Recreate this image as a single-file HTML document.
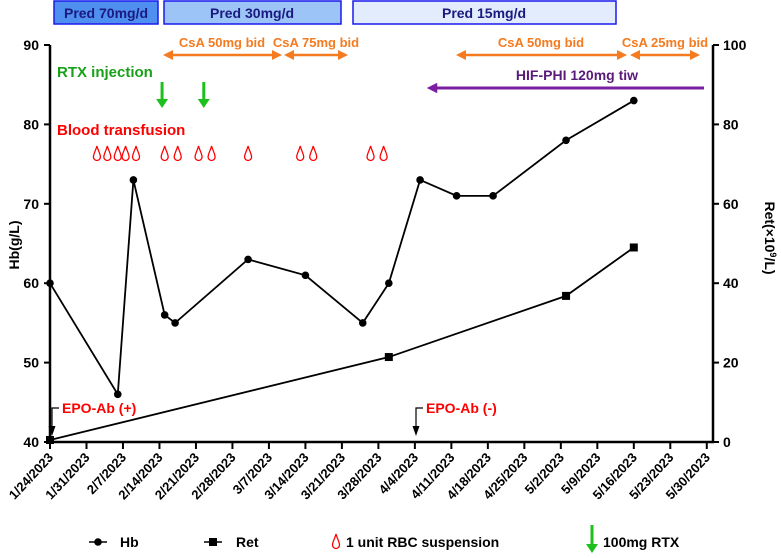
<!DOCTYPE html>
<html><head><meta charset="utf-8"><style>
body{margin:0;background:#fff}
svg text{font-family:"Liberation Sans",Arial,sans-serif;font-weight:bold}
</style></head><body>
<svg id="c" width="781" height="553" viewBox="0 0 781 553">
<defs>
<marker id="oa" viewBox="0 0 10 10" refX="5" refY="5" markerWidth="4" markerHeight="4" orient="auto-start-reverse"><path d="M0,0L10,5L0,10z" fill="#f47b20"/></marker>
<marker id="pa" viewBox="0 0 10 10" refX="5" refY="5" markerWidth="3.5" markerHeight="3.5" orient="auto-start-reverse"><path d="M0,0L10,5L0,10z" fill="#7a1fa2"/></marker>
</defs>
<g>
<rect x="54" y="1" width="104" height="23" fill="#4f8ff0" stroke="#1a1aee" stroke-width="1.5"/>
<text x="106" y="18" text-anchor="middle" font-size="14" fill="#1a1a80">Pred 70mg/d</text>
<rect x="164" y="1" width="177" height="23" fill="#9cc4f7" stroke="#1a1aee" stroke-width="1.5"/>
<text x="252" y="18" text-anchor="middle" font-size="14" fill="#1a1a80">Pred 30mg/d</text>
<rect x="353" y="1" width="263" height="23" fill="#e2ecfc" stroke="#1a1aee" stroke-width="1.5"/>
<text x="484" y="18" text-anchor="middle" font-size="14" fill="#1a1a80">Pred 15mg/d</text>
</g>
</svg>
<script>
const days=[0,13,16,22,24,38,49,60,65,71,78,85,99,112];
const hb=[60,46,73,56,55,63,61,55,60,73,71,71,78,83];
const retDays=[0,65,99,112];
const ret=[0.5,21.4,36.8,49];
const tickLabels=["1/24/2023","1/31/2023","2/7/2023","2/14/2023","2/21/2023","2/28/2023","3/7/2023","3/14/2023","3/21/2023","3/28/2023","4/4/2023","4/11/2023","4/18/2023","4/25/2023","5/2/2023","5/9/2023","5/16/2023","5/23/2023","5/30/2023"];
const leftTicks=[40,50,60,70,80,90];
const rightTicks=[0,20,40,60,80,100];
const dropDays=[9,11,13,14.5,16.5,22,24.5,28.5,31,38,48,50.5,61.5,64];
const rtxDays=[21.5,29.5];
const S="http://www.w3.org/2000/svg",svg=document.getElementById('c');
const X=d=>50+d*662/127, YL=v=>442-(v-40)*397/50, YR=v=>442-v*3.97;
function el(t,a,txt){const e=document.createElementNS(S,t);for(const k in a)e.setAttribute(k,a[k]);if(txt!==undefined)e.textContent=txt;svg.appendChild(e);return e;}
let e;
e=el('path',{d:'M50,45V442H713V45',fill:'none',stroke:'#000','stroke-width':2.5});


tickLabels.forEach((t,i)=>{const x=X(i*7);
e=el('line',{x1:x,y1:442,x2:x,y2:449,stroke:'#000','stroke-width':2});


e=el('text',{x:x+4,y:458,'font-size':13,'text-anchor':'end',transform:`rotate(-47 ${x+4} 458)`},t);

});
leftTicks.forEach(v=>{const y=YL(v);
e=el('line',{x1:44,y1:y,x2:50,y2:y,stroke:'#000','stroke-width':2});


e=el('text',{x:39,y:y+5,'font-size':14,'text-anchor':'end'},v);

});
rightTicks.forEach(v=>{const y=YR(v);
e=el('line',{x1:713,y1:y,x2:719,y2:y,stroke:'#000','stroke-width':2});


e=el('text',{x:723,y:y+5,'font-size':14},v);

});
e=el('text',{x:19,y:245,'font-size':14,'text-anchor':'middle',transform:'rotate(-90 19 245)'},'Hb(g/L)');


e=el('text',{x:765,y:238,'font-size':14,'text-anchor':'middle',transform:'rotate(90 765 238)'});
e.innerHTML='Ret(×10<tspan baseline-shift="super" font-size="9">9</tspan>/L)';


e=el('polyline',{points:days.map((d,i)=>X(d)+','+YL(hb[i])).join(' '),fill:'none',stroke:'#000','stroke-width':1.8});


days.forEach((d,i)=>{e=el('circle',{cx:X(d),cy:YL(hb[i]),r:3.8,fill:'#000'});

});
e=el('polyline',{points:retDays.map((d,i)=>X(d)+','+YR(ret[i])).join(' '),fill:'none',stroke:'#000','stroke-width':1.8});


retDays.forEach((d,i)=>{e=el('rect',{x:X(d)-4,y:YR(ret[i])-4,width:8,height:8,fill:'#000'});

});
function drop(x,y){return el('path',{d:`M${x},${y-8}C${x+1},${y-4} ${x+3.5},${y} ${x+3.5},${y+3}A3.5,3.5 0 0 1 ${x-3.5},${y+3}C${x-3.5},${y} ${x-1},${y-4} ${x},${y-8}z`,fill:'none',stroke:'#f00','stroke-width':1.3});}
dropDays.forEach(d=>{e=drop(X(d),154);

});
function garrow(x,y1,y2){return el('path',{d:`M${x-1.5},${y1}V${y2-9}H${x-6}L${x},${y2}L${x+6},${y2-9}H${x+1.5}V${y1}z`,fill:'#1ec01e'});}
rtxDays.forEach(d=>{e=garrow(X(d),82,108);

});
const labels=[["RTX injection",57,77,15,'#18a018','rtx-label'],["Blood transfusion",57,135,15,'#f00','transfusion-label'],["HIF-PHI 120mg tiw",577,80,14,'#5a1a7a','hif-label'],["CsA 50mg bid",222,47,13,'#f47b20','csa-50-label'],["CsA 75mg bid",316,47,13,'#f47b20','csa-75-label'],["CsA 50mg bid",541,47,13,'#f47b20','csa-50-label-2'],["CsA 25mg bid",665,47,13,'#f47b20','csa-25-label']];
labels.forEach(l=>{e=el('text',{x:l[1],y:l[2],'font-size':l[3],fill:l[4],'text-anchor':l[1]>100?'middle':'start'},l[0]);

});
[[164,281],[285,347],[457,626],[631,699]].forEach(a=>{e=el('line',{x1:a[0]+4,y1:55,x2:a[1]-4,y2:55,stroke:'#f47b20','stroke-width':2.5,'marker-start':'url(#oa)','marker-end':'url(#oa)'});

});
e=el('line',{x1:704,y1:88,x2:432,y2:88,stroke:'#7a1fa2','stroke-width':3,'marker-end':'url(#pa)'});


[[52,'EPO-Ab (+)','epo-ab-positive'],[416,'EPO-Ab (-)','epo-ab-negative']].forEach(a=>{
e=el('path',{d:`M${a[0]+7},408H${a[0]}V428`,fill:'none',stroke:'#000','stroke-width':1.2});


e=el('path',{d:`M${a[0]-3.5},426L${a[0]},436L${a[0]+3.5},426z`,fill:'#000'});


e=el('text',{x:a[0]+10,y:413,'font-size':14,fill:'#f00'},a[1]);

});
const LY=542;
e=el('line',{x1:89,y1:LY,x2:107,y2:LY,stroke:'#000','stroke-width':1.5});


e=el('circle',{cx:98,cy:LY,r:3.8,fill:'#000'});


e=el('text',{x:120,y:LY+5,'font-size':14},'Hb');


e=el('line',{x1:204,y1:LY,x2:222,y2:LY,stroke:'#000','stroke-width':1.5});


e=el('rect',{x:209,y:LY-4,width:8,height:8,fill:'#000'});


e=el('text',{x:236,y:LY+5,'font-size':14},'Ret');


e=drop(336,LY);


e=el('text',{x:346,y:LY+5,'font-size':14},'1 unit RBC suspension');


e=garrow(592,525,553);


e=el('text',{x:603,y:LY+5,'font-size':14},'100mg RTX');


</script>
</body></html>
